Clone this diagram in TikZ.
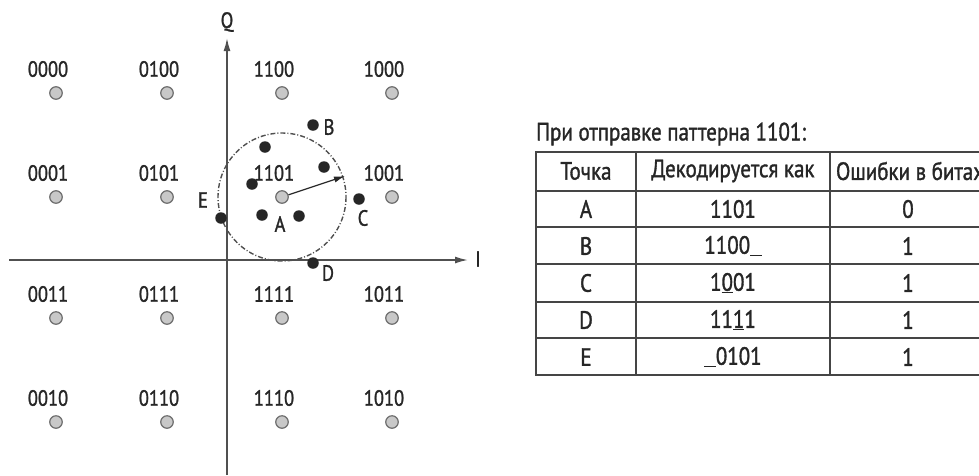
\documentclass[tikz,border=0pt]{standalone}
\usepackage{fontspec}
\setmainfont{PT Sans}[FakeStretch=0.84,FakeBold=1.3]
\usetikzlibrary{arrows.meta}
\definecolor{axisc}{HTML}{505050}
\definecolor{ptfill}{HTML}{C8C8C8}
\definecolor{ptdraw}{HTML}{6E6E6E}
\definecolor{txt}{HTML}{262626}
\definecolor{tabc}{HTML}{454545}
\begin{document}
\begin{tikzpicture}[x=1pt,y=-1pt,
  pt/.style={circle,draw=ptdraw,fill=ptfill,line width=1.2pt,minimum size=12.5pt,inner sep=0pt},
  dot/.style={circle,fill=txt,minimum size=11.5pt,inner sep=0pt},
  lbl/.style={font=\fontsize{22}{22}\selectfont,text=txt,inner sep=0pt},
  axisline/.style={draw=axisc,line width=1.6pt},
  tiparrow/.style={-{Latex[length=13pt,width=7pt]}},
  ring/.style={draw=axisc,line width=1.4pt,dash pattern=on 5pt off 2pt on 1pt off 2pt},
  radius arrow/.style={draw=txt,line width=1.2pt,-{Latex[length=11pt,width=6pt]}},
  tabline/.style={draw=tabc,line width=1.5pt},
  cell/.style={font=\fontsize{25}{25}\selectfont,text=txt,inner sep=0pt},
  ttl/.style={font=\fontsize{25}{25}\selectfont,text=txt,inner sep=0pt}]
\useasboundingbox[fill=white] (0,0) rectangle (979,475);

% axes
\coordinate (qb) at (227,475);
\coordinate (qt) at (227,38);
\coordinate (il) at (9,260);
\coordinate (ir) at (468,260);
\draw[axisline,tiparrow] (qb) -- (qt);
\draw[axisline,tiparrow] (il) -- (ir);
\node[lbl] (Q) at (227,22) {Q};
\node[lbl] (I) at (478,259) {I};

% constellation points
\foreach \lab/\x/\y in {0000/56/93, 0100/167/93, 1100/282/93, 1000/392/93,
  0001/56/197, 0101/167/197, 1101/282/197, 1001/392/197,
  0011/56/318, 0111/167/318, 1111/282/318, 1011/392/318,
  0010/56/422, 0110/167/422, 1110/282/422, 1010/392/422} {
  \node[pt] (p\lab) at (\x,\y) {};
  \node[lbl] (t\lab) at (\x-8,\y-24) {\lab};
}

% decision circle and radius
\draw[ring] (p1101.center) circle[radius=64];
\coordinate (rim) at (345,176);
\draw[radius arrow] (p1101) -- (rim);

% received points
\node[dot] (dB) at (313,125) {};
\node[dot] (d1) at (265,147) {};
\node[dot] (d2) at (324,167) {};
\node[dot] (d3) at (252,184) {};
\node[dot] (d4) at (262,215) {};
\node[dot] (d5) at (299,216) {};
\node[dot] (dC) at (359,199) {};
\node[dot] (dE) at (221,218) {};
\node[dot] (dD) at (313,263) {};
\node[lbl] (lB) at (329,127) {B};
\node[lbl] (lA) at (280,224) {A};
\node[lbl] (lC) at (363,218) {C};
\node[lbl] (lE) at (203,200) {E};
\node[lbl] (lD) at (328,273) {D};

% table
\node[ttl,anchor=west] (title) at (536,134) {При отправке паттерна 1101:};
\draw[tabline] (536,152) rectangle (990,375);
\foreach \yy in {191,227,264,302,338} {\draw[tabline] (536,\yy) -- (990,\yy);}
\draw[tabline] (636,152) -- (636,375);
\draw[tabline] (830,152) -- (830,375);

\node[cell] (h1) at (586,171) {Точка};
\node[cell] (h2) at (733,171) {Декодируется как};
\node[cell] (h3) at (910,171) {Ошибки в битах};

\node[cell] (a1) at (586,209) {A};
\node[cell] (a2) at (733,209) {1101};
\node[cell] (a3) at (908,209) {0};

\node[cell] (b1) at (586,246) {B};
\node[cell] (b2) at (733,246) {1100\underline{\phantom{0}}};
\node[cell] (b3) at (908,246) {1};

\node[cell] (c1) at (586,283) {C};
\node[cell] (c2) at (733,283) {1\underline{0}01};
\node[cell] (c3) at (908,283) {1};

\node[cell] (e1) at (586,320) {D};
\node[cell] (e2) at (733,320) {11\underline{1}1};
\node[cell] (e3) at (908,320) {1};

\node[cell] (f1) at (586,357) {E};
\node[cell] (f2) at (733,357) {\underline{\phantom{0}}0101};
\node[cell] (f3) at (908,357) {1};
\end{tikzpicture}
\end{document}
